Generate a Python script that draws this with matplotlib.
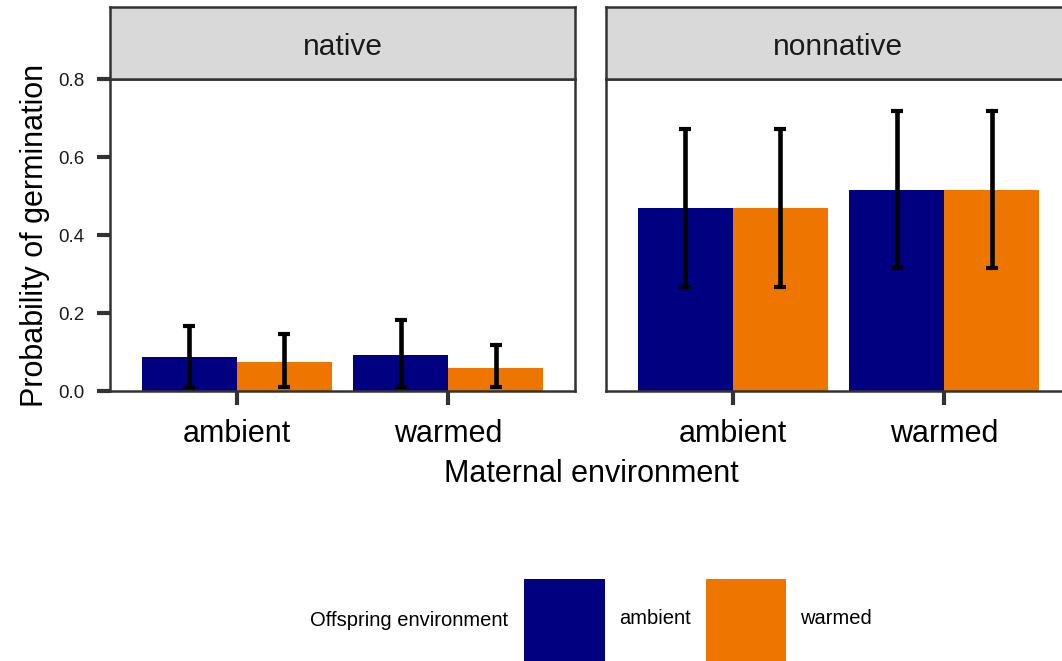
import numpy as np
import matplotlib
matplotlib.use('Agg')
import matplotlib.pyplot as plt
from matplotlib.patches import Patch

plt.rcParams['font.family'] = ['Liberation Sans', 'DejaVu Sans']

panels = ['native', 'nonnative']
maternal = ['ambient', 'warmed']
offspring = ['ambient', 'warmed']
colors = ['#000080', '#EE7600']

# mean[panel][offspring][maternal]
mean = {
    'native':    {'ambient': [0.087, 0.092], 'warmed': [0.074, 0.059]},
    'nonnative': {'ambient': [0.469, 0.515], 'warmed': [0.470, 0.515]},
}
lower = {
    'native':    {'ambient': [0.010, 0.010], 'warmed': [0.010, 0.010]},
    'nonnative': {'ambient': [0.267, 0.315], 'warmed': [0.267, 0.315]},
}
upper = {
    'native':    {'ambient': [0.167, 0.182], 'warmed': [0.146, 0.118]},
    'nonnative': {'ambient': [0.672, 0.718], 'warmed': [0.672, 0.718]},
}

W, H = 1062, 661
fig = plt.figure(figsize=(W / 100, H / 100), dpi=100)

dark = '#333333'
ax_w = 465 / W
ax_b = 1 - 391 / H
ax_h = (391 - 79) / H
strip_h = (79 - 7) / H
lefts = [110 / W, 606 / W]

x = np.arange(1, len(maternal) + 1)
bw = 0.45

for k, p in enumerate(panels):
    ax = fig.add_axes([lefts[k], ax_b, ax_w, ax_h])
    for j, o in enumerate(offspring):
        pos = x + (j - 0.5) * bw
        m = np.array(mean[p][o])
        ax.bar(pos, m, width=bw, color=colors[j], zorder=2)
        yerr = np.vstack([m - np.array(lower[p][o]), np.array(upper[p][o]) - m])
        ax.errorbar(pos, m, yerr=yerr, fmt='none', ecolor='black',
                    elinewidth=3.3, capsize=4, capthick=3, zorder=3)
    ax.set_xlim(0.4, 2.6)
    ax.set_ylim(0, 0.8)
    ax.set_xticks(x)
    ax.set_xticklabels(maternal, fontsize=22, color='black')
    for s in ax.spines.values():
        s.set_color(dark)
        s.set_linewidth(1.8)
    ax.tick_params(axis='x', length=10, width=3, color=dark, pad=10)
    if k == 0:
        ax.set_yticks([0, 0.2, 0.4, 0.6, 0.8])
        ax.set_yticklabels(['0.0', '0.2', '0.4', '0.6', '0.8'], fontsize=13.5, color='#1a1a1a')
        ax.tick_params(axis='y', length=9.5, width=3, color=dark, pad=9)
        ax.set_ylabel('Probability of germination', fontsize=22, labelpad=6)
    else:
        ax.set_yticks([])

    sax = fig.add_axes([lefts[k], ax_b + ax_h, ax_w, strip_h])
    sax.set_facecolor('#d9d9d9')
    sax.set_xticks([])
    sax.set_yticks([])
    for s in sax.spines.values():
        s.set_color(dark)
        s.set_linewidth(1.8)
    sax.text(0.5, 0.44, p, ha='center', va='center', fontsize=21.5,
             color='#1a1a1a', transform=sax.transAxes)

fig.text(591 / W, 1 - 474 / H, 'Maternal environment', ha='center', va='center', fontsize=22)

fig.text(310 / W, 1 - 621 / H, 'Offspring environment', ha='left', va='center', fontsize=14.5)
handles = [Patch(facecolor=colors[j], edgecolor='none', label=offspring[j]) for j in range(2)]
fig.legend(handles=handles, loc='center left', bbox_to_anchor=(524 / W, 1 - 620 / H),
           ncol=2, frameon=False, fontsize=14.5, handlelength=4.0, handleheight=5.85,
           handletextpad=0.7, columnspacing=0.75, borderpad=0, borderaxespad=0)

fig.savefig('out.png', dpi=100)
